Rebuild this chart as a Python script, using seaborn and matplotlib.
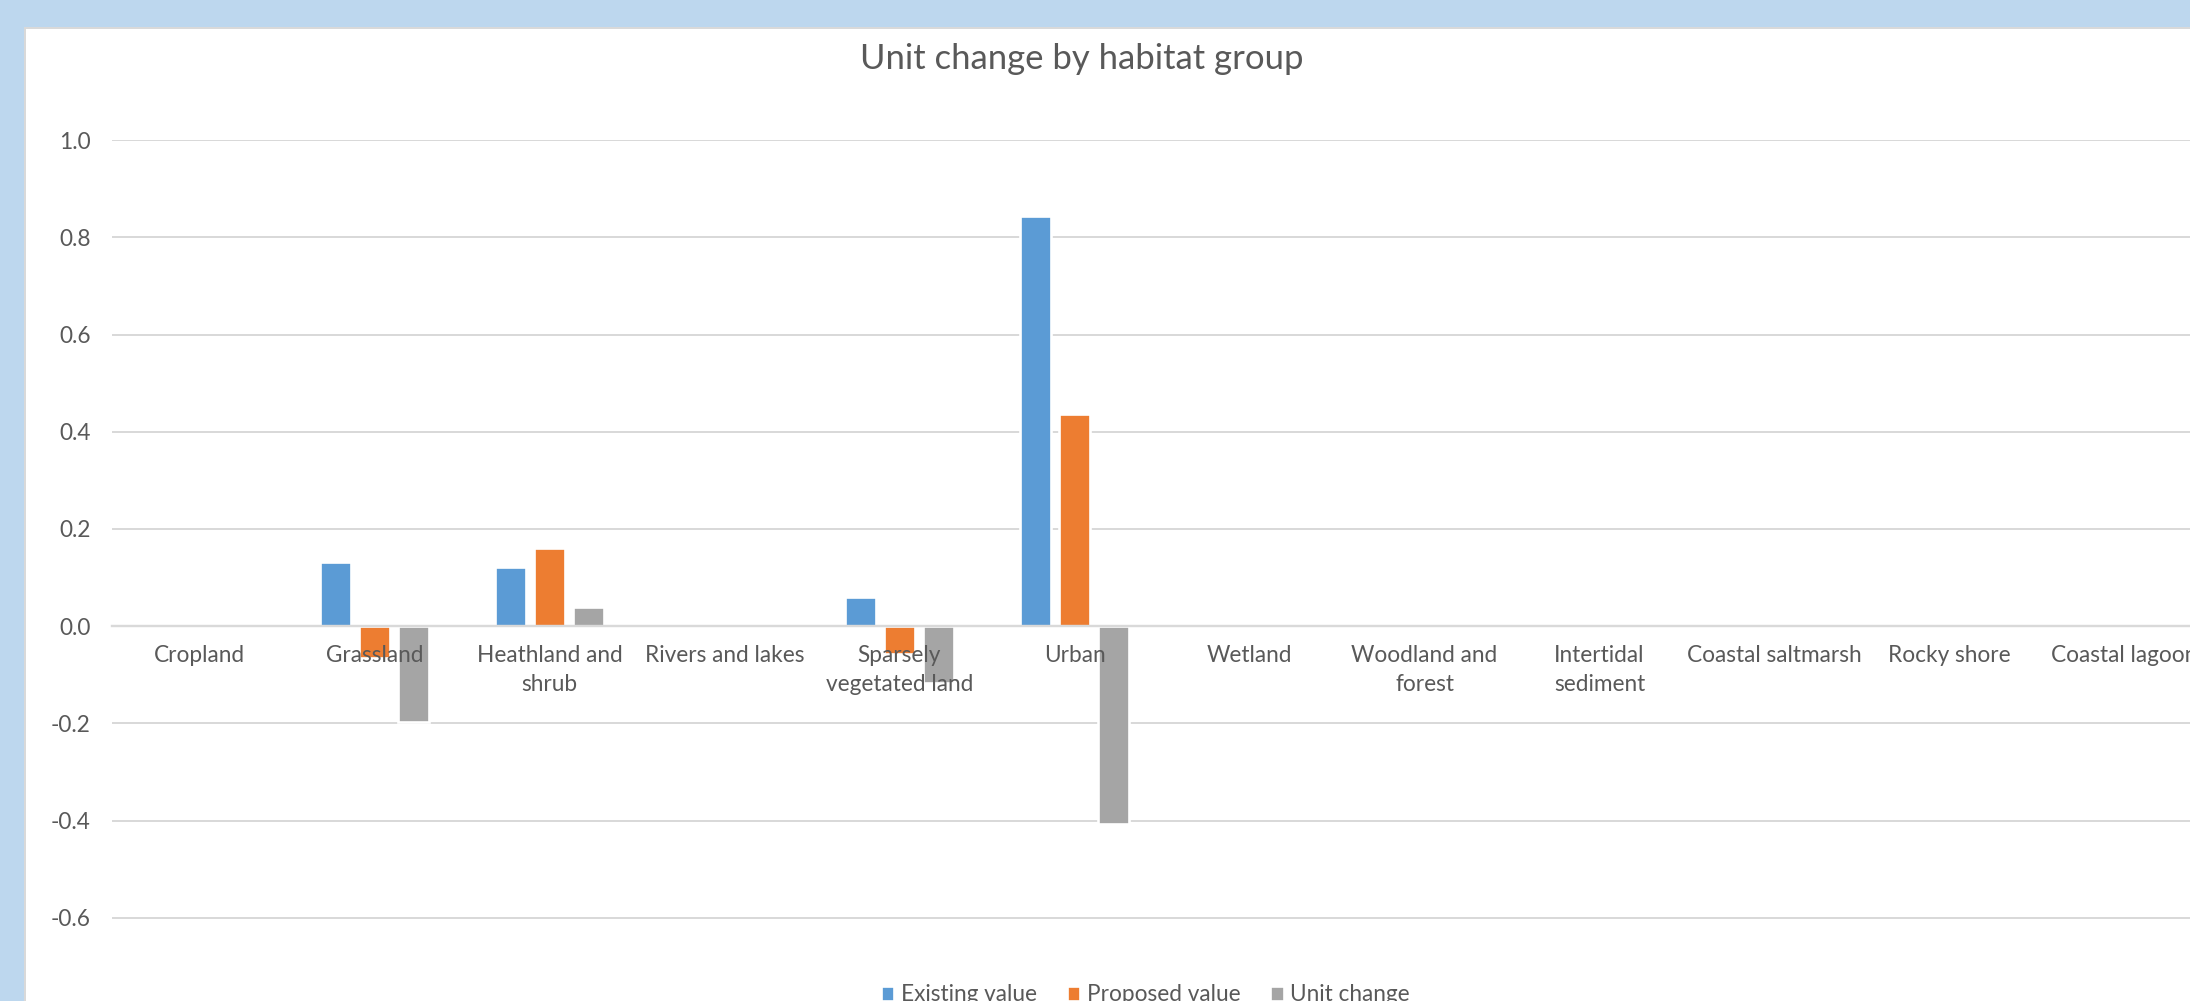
import pandas as pd
import matplotlib.pyplot as plt
import seaborn as sns
from matplotlib.patches import Rectangle

# habitat groups (tick labels, wrapped as in the original)
habitats = ['Cropland', 'Grassland', 'Heathland and\nshrub', 'Rivers and lakes',
            'Sparsely\nvegetated land', 'Urban', 'Wetland', 'Woodland and\nforest',
            'Intertidal\nsediment', 'Coastal saltmarsh', 'Rocky shore', 'Coastal lagoon']

existing_value = [0, 0.132, 0.121, 0, 0.060, 0.845, 0, 0, 0, 0, 0, 0]
proposed_value = [0, -0.066, 0.161, 0, -0.057, 0.437, 0, 0, 0, 0, 0, 0]
unit_change = [0, -0.198, 0.040, 0, -0.117, -0.408, 0, 0, 0, 0, 0, 0]

series_names = ['Existing value', 'Proposed value', 'Unit change']
series_colors = ['#5B9BD5', '#ED7D31', '#A5A5A5']
y_ticks = [-0.8, -0.6, -0.4, -0.2, 0.0, 0.2, 0.4, 0.6, 0.8, 1.0]

# long format for seaborn
df = pd.concat([
    pd.DataFrame({'habitat': habitats, 'value': existing_value, 'series': series_names[0]}),
    pd.DataFrame({'habitat': habitats, 'value': proposed_value, 'series': series_names[1]}),
    pd.DataFrame({'habitat': habitats, 'value': unit_change, 'series': series_names[2]}),
])

sns.set_style('white')
plt.rcParams['font.family'] = ['Lato', 'DejaVu Sans']
plt.rcParams['axes.unicode_minus'] = False

text_color = '#595959'
grid_color = '#D9D9D9'

fig = plt.figure(figsize=(2190 / 192, 1001 / 192))
fig.patch.set_facecolor('#BDD7EE')

# white chart panel
fig.add_artist(Rectangle((25 / 2190, -0.1), 1.2, (1001 - 28) / 1001 + 0.1,
                         transform=fig.transFigure, facecolor='white',
                         edgecolor=grid_color, lw=0.75, zorder=0))

ax = fig.add_axes([112 / 2190, 1 - 1015 / 1001, 2100 / 2190, 1.8 * 486 / 1001])
ax.set_facecolor('none')

sns.barplot(data=df, x='habitat', y='value', hue='series', palette=series_colors,
            width=0.67, gap=0.2, saturation=1, ax=ax)

ax.set_xlim(-0.5, 11.5)
ax.set_ylim(-0.8, 1.0)
ax.set_yticks(y_ticks)
ax.set_yticklabels([f'{t:.1f}' for t in y_ticks])
ax.set_xlabel('')
ax.set_ylabel('')

for s in ['top', 'right', 'left']:
    ax.spines[s].set_visible(False)
ax.spines['bottom'].set_position(('data', 0))
ax.spines['bottom'].set_color(grid_color)
ax.spines['bottom'].set_linewidth(0.9)

ax.grid(axis='y', color=grid_color, lw=0.75)
ax.set_axisbelow(True)
# category labels sit on top of the bars, like in Excel
ax.xaxis.set_zorder(3)
ax.tick_params(axis='both', length=0, labelsize=8.5, labelcolor=text_color)
ax.tick_params(axis='y', pad=8)
ax.tick_params(axis='x', pad=7)
for lbl in ax.get_xticklabels():
    lbl.set_linespacing(1.5)
    lbl.set_verticalalignment('top')

# legend at the bottom
handles, labels = ax.get_legend_handles_labels()
ax.legend_.remove()
fig.legend(handles, labels, loc='center', bbox_to_anchor=(0.523, 0.006), ncol=3,
           frameon=False, fontsize=8.5, labelcolor=text_color,
           handlelength=0.6, handleheight=0.6, handletextpad=0.3, columnspacing=1.3)

fig.text(0.494, 1 - 59 / 1001, 'Unit change by habitat group', ha='center', va='center',
         fontsize=13, color=text_color)

fig.savefig('out.png', dpi=192)
